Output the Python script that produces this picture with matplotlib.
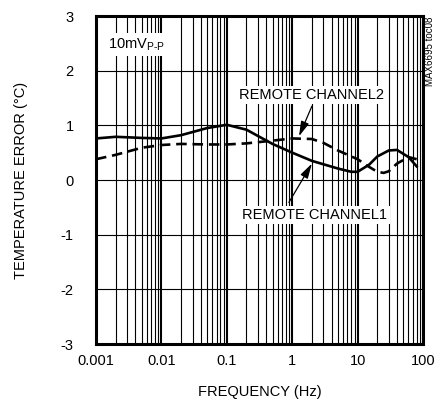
import matplotlib
matplotlib.use("Agg")
import matplotlib.pyplot as plt
from matplotlib.ticker import LogLocator, NullFormatter, FixedLocator

plt.rcParams["font.family"] = ["Liberation Sans", "DejaVu Sans"]
plt.rcParams["axes.unicode_minus"] = False
plt.rcParams["mathtext.fontset"] = "custom"
plt.rcParams["mathtext.rm"] = "Liberation Sans"

# ---------------------------------------------------------------------------
# Data
# ---------------------------------------------------------------------------
freq_ch1 = [0.001, 0.002, 0.005, 0.01, 0.02, 0.05, 0.1, 0.2, 0.5, 1, 2, 5, 8, 10, 15, 20, 30, 40, 60, 80]
err_ch1 = [0.76, 0.79, 0.77, 0.76, 0.82, 0.95, 1.01, 0.92, 0.66, 0.50, 0.35, 0.21, 0.15, 0.15, 0.28, 0.43, 0.54, 0.55, 0.42, 0.25]

freq_ch2 = [0.001, 0.002, 0.005, 0.01, 0.02, 0.05, 0.1, 0.2, 0.5, 1, 2, 3, 5, 10, 15, 20, 25, 30, 40, 60, 80]
err_ch2 = [0.38, 0.46, 0.59, 0.64, 0.66, 0.65, 0.65, 0.67, 0.72, 0.76, 0.75, 0.68, 0.54, 0.38, 0.24, 0.15, 0.13, 0.16, 0.30, 0.42, 0.38]

x_ticks = [0.001, 0.01, 0.1, 1, 10, 100]
x_tick_labels = ["0.001", "0.01", "0.1", "1", "10", "100"]
y_ticks = [-3, -2, -1, 0, 1, 2, 3]

FS = 10.5

# ---------------------------------------------------------------------------
# Figure
# ---------------------------------------------------------------------------
fig = plt.figure(figsize=(4.47, 4.01), dpi=100)
ax = fig.add_axes([96 / 447, 1 - 344 / 401, 327 / 447, 328 / 401])

ax.set_xscale("log")
ax.set_xlim(0.001, 100)
ax.set_ylim(-3, 3)

ax.xaxis.set_major_locator(FixedLocator(x_ticks))
ax.set_xticklabels(x_tick_labels)
ax.xaxis.set_minor_locator(LogLocator(base=10, subs=range(2, 10)))
ax.xaxis.set_minor_formatter(NullFormatter())
ax.set_yticks(y_ticks)
ax.set_yticklabels([str(v) for v in y_ticks])

ax.grid(True, which="major", axis="x", color="black", linewidth=1.5)
ax.grid(True, which="minor", axis="x", color="black", linewidth=0.8)
ax.grid(True, which="major", axis="y", color="black", linewidth=0.8)
ax.tick_params(which="both", length=0)
ax.tick_params(axis="x", pad=7, labelsize=FS)
ax.tick_params(axis="y", pad=16, labelsize=FS)
for sp in ax.spines.values():
    sp.set_linewidth(2.2)

ax.plot(freq_ch1, err_ch1, color="black", linewidth=1.9, zorder=3)
ax.plot(freq_ch2, err_ch2, color="black", linewidth=1.9, linestyle=(0, (4, 2.2)), zorder=3)

box = dict(facecolor="white", edgecolor="none", pad=1.5)
arrow = dict(arrowstyle="-|>,head_length=0.9,head_width=0.25", color="black",
             linewidth=0.9, shrinkA=0, shrinkB=0)
ax.text(1.94, 1.56, "REMOTE CHANNEL2", ha="center", va="center", fontsize=FS, bbox=box, zorder=4)
ax.annotate("", xy=(1.27, 0.80), xytext=(2.0, 1.35), arrowprops=arrow, zorder=4)
ax.text(2.23, -0.64, "REMOTE CHANNEL1", ha="center", va="center", fontsize=FS, bbox=box, zorder=4)
ax.annotate("", xy=(2.0, 0.30), xytext=(0.89, -0.41), arrowprops=arrow, zorder=4)

ax.text(0.00153, 2.48, r"10mV$_{\mathrm{P\text{-}P}}$", ha="left", va="center", fontsize=FS,
        bbox=dict(facecolor="white", edgecolor="none", pad=2), zorder=4)

ax.set_xlabel("FREQUENCY (Hz)", fontsize=FS)
ax.set_ylabel("TEMPERATURE ERROR (°C)", fontsize=FS)
ax.xaxis.set_label_coords(0.5, -0.125)
ax.yaxis.set_label_coords(-0.208, 0.5)

fig.text(430 / 447, 1 - 17 / 401, "MAX6695 toc08", rotation=90, ha="center", va="top", fontsize=7)

fig.savefig("out.png", dpi=100)
